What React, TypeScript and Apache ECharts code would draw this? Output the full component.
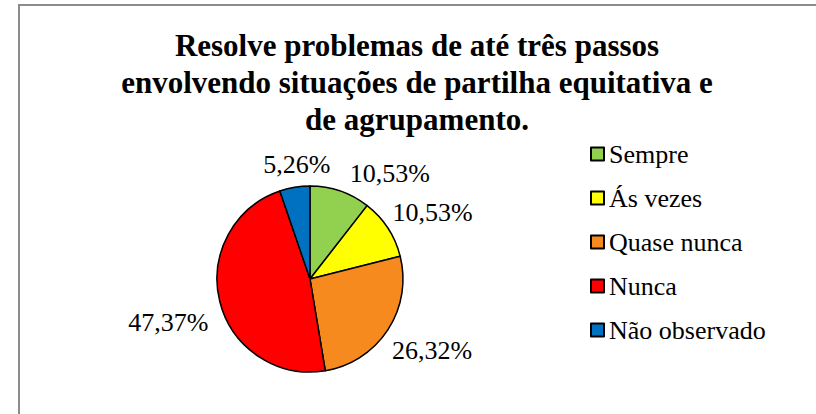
import React, { useEffect, useRef } from 'react';
import * as echarts from 'echarts';

// ---- data ----
const categories = ['Sempre', 'Ás vezes', 'Quase nunca', 'Nunca', 'Não observado'];
const percentages = [10.53, 10.53, 26.32, 47.37, 5.26];
const titleLines = [
  'Resolve problemas de até três passos',
  'envolvendo situações de partilha equitativa e',
  'de agrupamento.',
];

// ---- style ----
const colors = ['#92D050', '#FFFF00', '#F68A1E', '#FF0000', '#0070C0'];
const FONT = 'Liberation Serif';
const PIE_CX = 310;
const PIE_CY = 279;
const PIE_R = 93;
const LABEL_GAP = 8;
const labelNudge: [number, number][] = [[34, 2], [4.5, -4], [4, 9.5], [-5, 16], [9, -2]];

const fmt = (v: number) => v.toFixed(2).replace('.', ',') + '%';

export default function App() {
  const ref = useRef<HTMLDivElement>(null);
  useEffect(() => {
    if (!ref.current) return;
    const chart = echarts.init(ref.current, undefined, { renderer: 'svg' });
    const total = percentages.reduce((a, b) => a + b, 0);
    const option: any = {
      animation: false,
      backgroundColor: '#ffffff',
      color: colors,
      textStyle: { fontFamily: FONT },
      title: {
        text: titleLines.join('\n'),
        left: 412,
        top: 22,
        textAlign: 'center',
        textStyle: {
          fontFamily: FONT,
          fontWeight: 'bold',
          fontSize: 31,
          lineHeight: 37,
          color: '#000',
        },
      },
      legend: {
        orient: 'vertical',
        left: 590,
        top: 141,
        padding: 0,
        itemWidth: 13,
        itemHeight: 13,
        itemGap: 18,
        icon: 'rect',
        textStyle: { fontFamily: FONT, fontSize: 26, color: '#000' },
        data: categories,
      },
      graphic: [
        {
          type: 'rect',
          shape: { x: 19, y: 5, width: 820, height: 430 },
          style: { fill: 'none', stroke: '#8c8c8c', lineWidth: 2 },
          silent: true,
        },
      ],
      series: [
        {
          type: 'pie',
          center: [PIE_CX, PIE_CY],
          radius: PIE_R,
          startAngle: 90,
          clockwise: true,
          avoidLabelOverlap: false,
          itemStyle: { borderColor: '#000', borderWidth: 1.5 },
          label: {
            show: true,
            position: 'outside',
            fontFamily: FONT,
            fontSize: 26,
            color: '#000',
            formatter: (p: any) => fmt(p.value),
          },
          labelLine: { show: false, length: 8, length2: 0 },
          labelLayout: (p: any) => {
            const i = p.dataIndex;
            let cum = 0;
            for (let k = 0; k < i; k++) cum += percentages[k];
            const mid = ((cum + percentages[i] / 2) / total) * 2 * Math.PI;
            const dx = Math.sin(mid);
            const dy = -Math.cos(mid);
            const w = p.labelRect.width;
            const h = p.labelRect.height;
            const R = PIE_R + LABEL_GAP;
            return {
              x: PIE_CX + dx * (R + w / 2) + labelNudge[i][0],
              y: PIE_CY + dy * (R + h / 2) + labelNudge[i][1],
              align: 'center',
              verticalAlign: 'middle',
            };
          },
          emphasis: { disabled: true },
          data: categories.map((name, i) => ({ name, value: percentages[i] })),
        },
      ],
    };
    chart.setOption(option);
    return () => chart.dispose();
  }, []);
  return (
    <div
      ref={ref}
      style={{ position: 'fixed', left: 0, top: 0, width: 816, height: 414, background: '#fff' }}
    />
  );
}
